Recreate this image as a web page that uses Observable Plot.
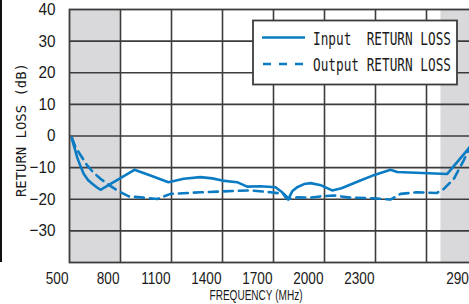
<!DOCTYPE html>
<html>
<head>
<meta charset="utf-8">
<script src="https://cdn.jsdelivr.net/npm/d3@7"></script>
<script src="https://cdn.jsdelivr.net/npm/@observablehq/plot@0.6"></script>
<style>
  html, body { margin: 0; padding: 0; background: #fff; overflow: hidden; }
  #wrap { position: relative; width: 469px; height: 304px; overflow: hidden; }
</style>
</head>
<body>
<div id="wrap"></div>
<script>
// ---- data ----
const inputFreq = [512, 530, 545, 565, 584, 610, 634, 660, 682, 882, 976, 1082, 1172, 1270, 1340, 1398, 1486, 1545, 1624, 1712, 1751, 1770, 1786, 1810, 1839, 1880, 1918, 1980, 2045, 2100, 2200, 2294, 2388, 2428, 2722, 2860];
const inputDb   = [-0.6, -3.8, -6.7, -9.6, -12.0, -14.0, -15.1, -16.2, -17.0, -10.7, -12.5, -14.6, -13.5, -13.0, -13.4, -14.1, -14.6, -16.0, -15.9, -16.2, -17.8, -19.3, -20.1, -17.5, -16.2, -15.2, -14.9, -15.6, -17.2, -16.5, -14.3, -12.3, -10.7, -11.4, -12.0, -3.2];

const outputFreq = [515, 535, 570, 604, 640, 682, 740, 790, 849, 937, 1016, 1094, 1271, 1408, 1565, 1682, 1761, 1790, 1839, 1918, 1976, 2055, 2153, 2290, 2388, 2447, 2545, 2662, 2702, 2761, 2819, 2860];
const outputDb   = [-0.6, -3.5, -6.5, -9.3, -11.5, -13.5, -15.8, -17.5, -19.1, -19.5, -19.9, -18.3, -17.8, -17.5, -17.2, -17.8, -18.3, -19.9, -19.4, -19.5, -19.1, -18.8, -19.5, -19.7, -20.1, -18.3, -17.8, -18.0, -16.7, -13.5, -7.7, -3.0];

const xTickLabels = [500, 800, 1100, 1400, 1700, 2000, 2300, 2900];
const xGrid = [800, 1100, 1400, 1700, 2000, 2300, 2600];
const yTickLabels = [-30, -20, -10, 0, 10, 20, 30, 40];
const yGrid = [-30, -20, -10, 0, 10, 20, 30];
const bandStart = [500, 2685];
const bandEnd = [800, 2900];
const seriesNames = ["Input  RETURN LOSS", "Output RETURN LOSS"];

// ---- build tables ----
const inputData = inputFreq.map((f, i) => ({f, db: inputDb[i]}));
const outputData = outputFreq.map((f, i) => ({f, db: outputDb[i]}));
const bands = bandStart.map((s, i) => ({x1: s, x2: bandEnd[i]}));

const BLUE = "#0b7cc3";
const GRID = "#3c3c3c";
const SANS = "'Liberation Sans', Arial, sans-serif";
const MONO = "'DejaVu Sans Mono', 'Liberation Mono', monospace";

const fmtY = d => d < 0 ? "\u2212" + (-d) : String(d);
const fmtX = d => String(d);

const chart = Plot.plot({
  width: 477,
  height: 304,
  marginLeft: 69,
  marginRight: 0,
  marginTop: 9,
  marginBottom: 42,
  style: `max-width:none; overflow:visible; background:#fff; font-family:${SANS}; font-size:17px; color:#1a1a1a;`,
  x: {domain: [500, 2900], label: null},
  y: {domain: [-40, 40], label: null},
  marks: [
    Plot.rect(bands, {x1: "x1", x2: "x2", y1: -40, y2: 40, fill: "#d9d9db"}),
    Plot.ruleX(xGrid, {stroke: GRID, strokeWidth: 1.6}),
    Plot.ruleY(yGrid, {stroke: GRID, strokeWidth: 1.6}),
    Plot.line(outputData, {x: "f", y: "db", stroke: BLUE, strokeWidth: 2.6, strokeDasharray: "9,6", strokeLinejoin: "round"}),
    Plot.line(inputData, {x: "f", y: "db", stroke: BLUE, strokeWidth: 2.6, strokeLinejoin: "round", strokeLinecap: "round"}),
    Plot.frame({stroke: GRID, strokeWidth: 1.8}),
    Plot.axisX(xTickLabels, {tickSize: 0, tickPadding: 9, textAnchor: "end", dx: -1, tickFormat: fmtX, label: null, fontSize: 17, ariaLabel: "x-axis"}),
    Plot.axisY(yTickLabels, {tickSize: 0, tickPadding: 14, tickFormat: fmtY, label: null, fontSize: 17, ariaLabel: "y-axis"})
  ]
});

document.getElementById("wrap").appendChild(chart);

const svg = d3.select(chart);

// condense the tick labels (reference uses a narrow face)
function condense(sel, k) {
  sel.each(function () {
    const w = this.getComputedTextLength();
    if (w > 0) {
      this.setAttribute("textLength", (w * k).toFixed(2));
      this.setAttribute("lengthAdjust", "spacingAndGlyphs");
    }
  });
}
condense(svg.selectAll('g[aria-label="x-axis tick label"] text'), 0.8);
condense(svg.selectAll('g[aria-label="y-axis tick label"] text'), 0.9);

// axis titles
svg.append("text")
  .attr("x", 256).attr("y", 300)
  .attr("text-anchor", "middle")
  .attr("font-family", SANS).attr("font-size", 15)
  .attr("fill", "#1a1a1a")
  .attr("textLength", 93).attr("lengthAdjust", "spacingAndGlyphs")
  .text("FREQUENCY (MHz)");

svg.append("text")
  .attr("transform", "translate(26,130) rotate(-90)")
  .attr("text-anchor", "middle")
  .attr("font-family", MONO).attr("font-size", 14)
  .attr("fill", "#1a1a1a")
  .attr("textLength", 134).attr("lengthAdjust", "spacingAndGlyphs")
  .text("RETURN LOSS (dB)");

// left edge rule (neighbouring panel border)
svg.append("line").attr("x1", 1).attr("x2", 1).attr("y1", 0).attr("y2", 262)
  .attr("stroke", "#111").attr("stroke-width", 2);

// legend
const lg = svg.append("g").attr("text-anchor", "start");
lg.append("rect").attr("x", 253).attr("y", 20.5).attr("width", 204).attr("height", 64)
  .attr("fill", "#fff").attr("stroke", GRID).attr("stroke-width", 1.8);
const rows = [{y: 37.5, dash: null}, {y: 64, dash: "8,8"}];
rows.forEach((r, i) => {
  const ln = lg.append("line").attr("x1", 262).attr("x2", 305).attr("y1", r.y).attr("y2", r.y)
    .attr("stroke", BLUE).attr("stroke-width", 2.6);
  if (r.dash) ln.attr("stroke-dasharray", r.dash).attr("x1", 263);
  lg.append("text").attr("x", 313).attr("y", r.y + 7)
    .attr("text-anchor", "start")
    .attr("font-family", MONO).attr("font-size", 17.5).attr("fill", "#1a1a1a")
    .attr("textLength", 138).attr("lengthAdjust", "spacingAndGlyphs")
    .attr("xml:space", "preserve").style("white-space", "pre")
    .text(seriesNames[i]);
});
</script>
</body>
</html>
